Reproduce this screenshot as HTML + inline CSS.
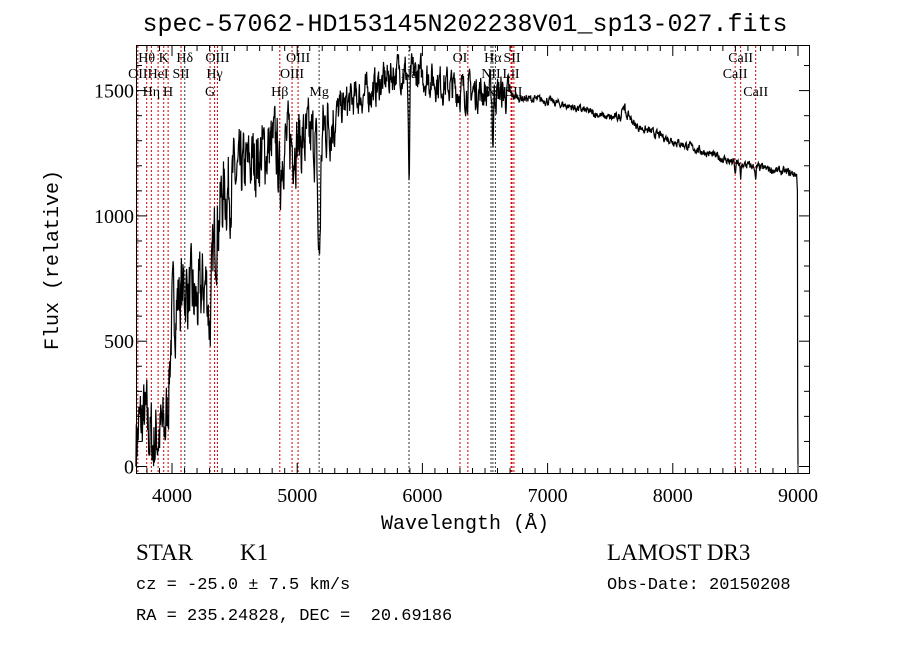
<!DOCTYPE html>
<html><head><meta charset="utf-8"><style>
body{margin:0;background:#fff;width:900px;height:649px;overflow:hidden}
svg text{font-family:"Liberation Serif",serif;fill:#000}
</style></head><body>
<svg id="s" width="900" height="649" xmlns="http://www.w3.org/2000/svg">
<rect width="900" height="649" fill="#fff"/>
<text x="465" y="31" font-size="25" text-anchor="middle" font-family="Liberation Mono, monospace" style="font-family:'Liberation Mono',monospace">spec-57062-HD153145N202238V01_sp13-027.fits</text>
<g id="lines"></g>
<g id="labels" font-size="14"></g>
<path id="spec" fill="none" stroke="#000" stroke-width="1.2"/>
<rect x="136.5" y="45.5" width="673" height="428" fill="none" stroke="#000" stroke-width="1"/>
<g id="ticks" stroke="#000" stroke-width="1"></g>
<g font-size="20" style="font-family:'Liberation Sans',sans-serif" id="tl"></g>
<text x="465" y="529" font-size="20" text-anchor="middle" style="font-family:'Liberation Mono',monospace">Wavelength (Å)</text>
<text transform="translate(58,260) rotate(-90)" font-size="20" text-anchor="middle" style="font-family:'Liberation Mono',monospace">Flux (relative)</text>
<text x="136" y="560" font-size="23">STAR</text>
<text x="240" y="560" font-size="23">K1</text>
<text x="607" y="560" font-size="23">LAMOST DR3</text>
<text x="136" y="589" font-size="17" style="font-family:'Liberation Mono',monospace">cz = -25.0 ± 7.5 km/s</text>
<text x="607" y="589" font-size="17" style="font-family:'Liberation Mono',monospace">Obs-Date: 20150208</text>
<text x="136" y="620" font-size="17" style="font-family:'Liberation Mono',monospace" xml:space="preserve">RA = 235.24828, DEC =  20.69186</text>
</svg>
<script>
var NS="http://www.w3.org/2000/svg";
function X(w){return 172+(w-4000)*0.1252;}
function Y(f){return 466.5-f*0.2506;}
function el(t,a,p){var e=document.createElementNS(NS,t);for(var k in a)e.setAttribute(k,a[k]);p.appendChild(e);return e;}
var L=[[3727,"OII",2,"r"],[3798,"Hθ",1,"r"],[3835,"Hη",3,"r"],[3889,"HeI",2,"r"],[3934,"K",1,"r"],[3969,"H",3,"r"],[4072,"SII",2,"r"],[4102,"Hδ",1,"k"],[4304,"G",3,"r"],[4340,"Hγ",2,"r"],[4363,"OIII",1,"r"],[4861,"Hβ",3,"r"],[4959,"OIII",2,"r"],[5007,"OIII",1,"r"],[5175,"Mg",3,"k"],[5893,"Na",2,"k"],[6300,"OI",1,"r"],[6363,"",0,"r"],[6548,"NII",2,"k"],[6563,"Hα",1,"k"],[6583,"NII",3,"k"],[6708,"LiI",2,"r"],[6716,"SII",1,"r"],[6731,"SII",3,"r"],[8498,"CaII",2,"r"],[8542,"CaII",1,"r"],[8662,"CaII",3,"r"]];
var gl=document.getElementById("lines"),gb=document.getElementById("labels");
L.forEach(function(l){var x=X(l[0]);el("line",{x1:x,x2:x,y1:46,y2:473,stroke:l[3]=="r"?"#c00":"#333","stroke-width":1,"stroke-dasharray":"2,2"},gl);
if(l[1]){var t=el("text",{x:x,y:[0,62,78,96][l[2]],"text-anchor":"middle"},gb);t.textContent=l[1];}});
var gt=document.getElementById("ticks"),tl=document.getElementById("tl");
for(var w=3800;w<=9000;w+=100){var x=X(w),M=w%1000==0,h=M?10:5;el("line",{x1:x,x2:x,y1:473,y2:473-h},gt);el("line",{x1:x,x2:x,y1:46,y2:46+h},gt);
if(M){var t=el("text",{x:x,y:502,"text-anchor":"middle"},tl);t.textContent=w;}}
for(var f=0;f<=1650;f+=100){var y=Y(f),M=f%500==0,h=M?10:5;el("line",{x1:137,x2:137+h,y1:y,y2:y},gt);el("line",{x1:809,x2:809-h,y1:y,y2:y},gt);
if(M){var t=el("text",{x:134,y:y+7,"text-anchor":"end"},tl);t.textContent=f;}}
var K=[[3712,120],[3780,200],[3850,90],[3900,150],[3960,330],[4000,620],[4100,720],[4200,640],[4300,780],[4400,1080],[4600,1200],[4800,1280],[5000,1300],[5150,1300],[5250,1380],[5400,1450],[5600,1500],[5800,1580],[6000,1560],[6300,1500],[6600,1490],[6800,1470],[7000,1460],[7300,1420],[7500,1390],[7650,1400],[7700,1360],[8000,1300],[8500,1210],[9000,1165]];
function base(w){for(var i=0;i<K.length-1;i++)if(w<=K[i+1][0]){var a=K[i],b=K[i+1];return a[1]+(b[1]-a[1])*(w-a[0])/(b[0]-a[0]);}return 1165;}
var seed=7;function r(){seed=(seed*16807)%2147483647;return seed/2147483647-0.5;}
var D=[[3934,25,-100],[3969,25,-100],[4304,20,-200],[4861,15,-150],[5175,15,-500],[5893,8,-450],[6563,6,-200],[8498,5,-50],[8542,5,-70],[8662,5,-60]];
var d="",sm=0;
for(var w=3712;w<=8990;w+=3){var b=base(w);var amp=w<4500?260:w<5300?230:w<6700?120:28;sm=0.5*sm+r()*amp;var f=b+sm;
D.forEach(function(q){var z=(w-q[0])/q[1];f+=q[2]*Math.exp(-z*z);});
if(w>=7590&&w<7620)f+=40;
if(f<0)f=0;if(f>1680)f=1680;d+=(d?"L":"M")+X(w).toFixed(1)+","+Y(f).toFixed(1);}
d+="L"+X(8995).toFixed(1)+","+Y(1100)+"L"+X(8998).toFixed(1)+","+Y(200)+"L"+X(9000).toFixed(1)+","+Y(10);
document.getElementById("spec").setAttribute("d",d);
</script>
</body></html>
